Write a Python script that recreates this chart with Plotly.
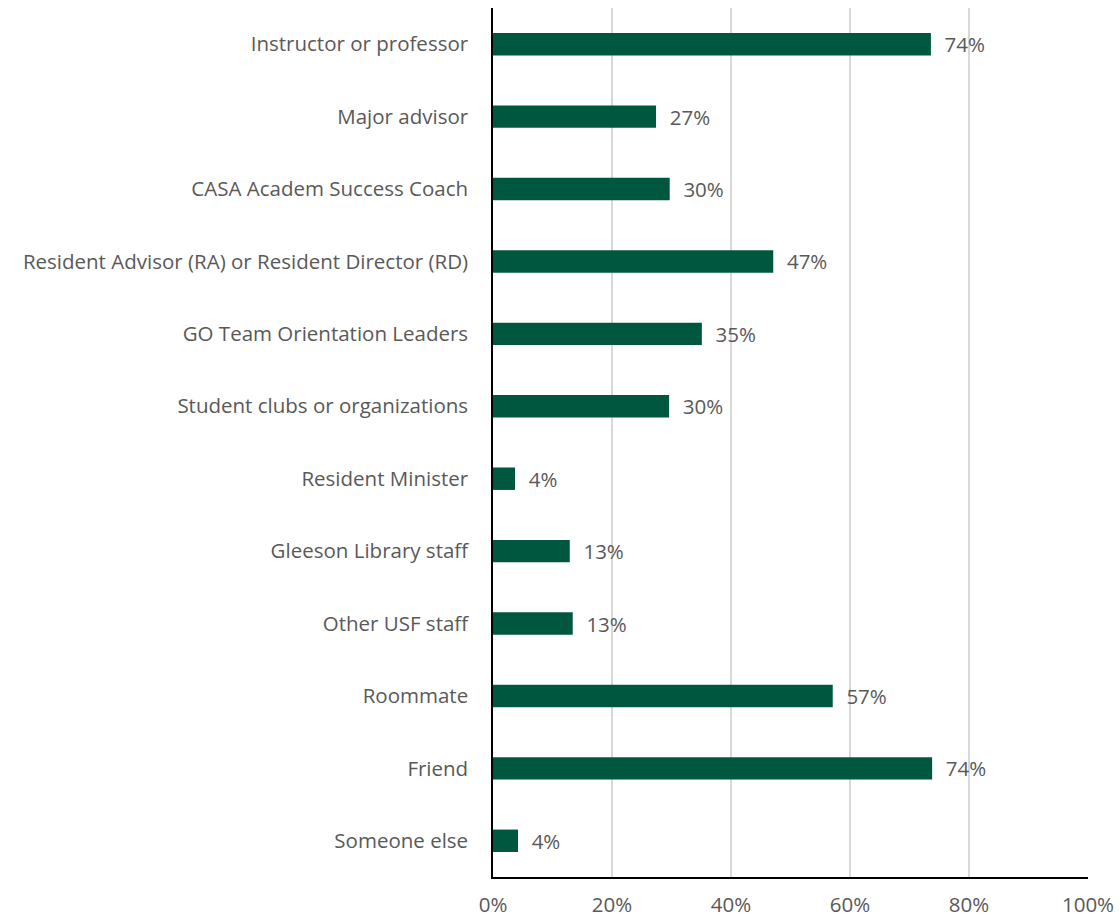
import plotly.graph_objects as go

# Share of respondents who named each source of support
sources = [
    "Instructor or professor",
    "Major advisor",
    "CASA Academ Success Coach",
    "Resident Advisor (RA) or Resident Director (RD)",
    "GO Team Orientation Leaders",
    "Student clubs or organizations",
    "Resident Minister",
    "Gleeson Library staff",
    "Other USF staff",
    "Roommate",
    "Friend",
    "Someone else",
]
shares = [0.736, 0.274, 0.297, 0.471, 0.351, 0.296, 0.037, 0.129, 0.134, 0.571, 0.738, 0.042]
x_ticks = [0, 0.2, 0.4, 0.6, 0.8, 1.0]
x_tick_text = ["0%", "20%", "40%", "60%", "80%", "100%"]

font_family = "'Open Sans', sans-serif"
font_size = 20.5
text_grey = "#595959"

fig = go.Figure(
    go.Bar(
        x=shares,
        y=sources,
        orientation="h",
        marker=dict(color="#00573F", line=dict(width=0)),
        texttemplate="  %{x:.0%}",
        textposition="outside",
        constraintext="none",
        textfont=dict(family=font_family, size=font_size, color=text_grey),
        cliponaxis=False,
    )
)

fig.update_layout(
    width=1120,
    height=919,
    margin=dict(l=493, r=32, t=8, b=42, autoexpand=False),
    paper_bgcolor="white",
    plot_bgcolor="white",
    bargap=0.69,
    showlegend=False,
    font=dict(family=font_family, size=font_size, color=text_grey),
)

fig.update_xaxes(
    range=[0, 1.0],
    tickvals=x_ticks,
    ticktext=x_tick_text,
    automargin=False,
    showgrid=True,
    gridcolor="#D9D9D9",
    gridwidth=1.5,
    zeroline=False,
    showline=True,
    linecolor="black",
    linewidth=1.5,
    ticks="outside",
    ticklen=9,
    tickcolor="rgba(0,0,0,0)",
    tickfont=dict(family=font_family, size=font_size, color=text_grey),
)

fig.update_yaxes(
    autorange="reversed",
    automargin=False,
    showgrid=False,
    zeroline=False,
    showline=True,
    linecolor="black",
    linewidth=1.5,
    ticks="outside",
    ticklen=19,
    tickcolor="rgba(0,0,0,0)",
    tickfont=dict(family=font_family, size=font_size, color=text_grey),
)

fig.write_html("out.html")
